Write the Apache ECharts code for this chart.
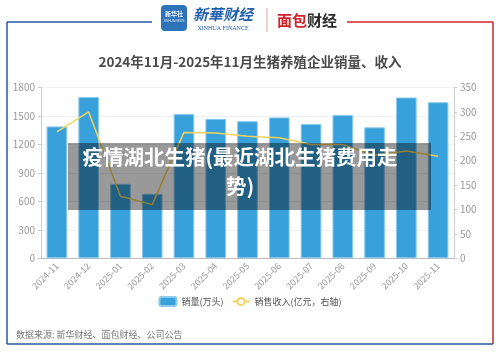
<!DOCTYPE html>
<html>
<head>
    <meta charset="utf-8">
    <title>生猪养殖企业销量、收入</title>
    <script src="https://cdn.jsdelivr.net/npm/echarts@6/dist/echarts.min.js"></script>
    <style>
        html, body { margin: 0; padding: 0; background: #fff; }
        #chart1 { width: 500px; height: 353px; }
    </style>
</head>
<body>
<div id="chart1"></div>
<script>
    // 数据
    var months = ['2024-11', '2024-12', '2025-01', '2025-02', '2025-03', '2025-04', '2025-05',
        '2025-06', '2025-07', '2025-08', '2025-09', '2025-10', '2025-11'];
    var salesVolume = [1390, 1700, 785, 680, 1520, 1470, 1445, 1485, 1415, 1510, 1380, 1695, 1645];  // 万头
    var salesIncome = [259, 300, 127, 110, 258, 257, 250, 247, 233, 233, 211, 220, 209];  // 亿元
    var leftTicks = { min: 0, max: 1800, interval: 300 };
    var rightTicks = { min: 0, max: 350, interval: 50 };

    var cjk = '"Noto Sans CJK SC", "Noto Sans", sans-serif';
    var myChart1 = echarts.init(document.getElementById('chart1'));

    myChart1.setOption({
        backgroundColor: '#fff',
        textStyle: { fontFamily: cjk },
        title: {
            text: '2024年11月-2025年11月生猪养殖企业销量、收入',
            left: 'center',
            top: 50,
            textStyle: { fontSize: 13.5, fontWeight: 'bold', color: '#4a4a4a', fontFamily: cjk }
        },
        legend: {
            bottom: 41,
            left: 'center',
            itemGap: 8,
            itemWidth: 17,
            itemHeight: 9,
            textStyle: { fontSize: 9, color: '#555' },
            data: [
                { name: '销量(万头)', icon: 'roundRect' },
                { name: '销售收入(亿元，右轴)' }
            ]
        },
        grid: { left: 41, right: 46, top: 87.5, bottom: 94.7, containLabel: false },
        xAxis: {
            type: 'category',
            data: months,
            axisLine: { lineStyle: { color: '#bbb' } },
            axisTick: { lineStyle: { color: '#bbb' } },
            axisLabel: { rotate: 45, fontSize: 9, color: '#999', margin: 6 }
        },
        yAxis: [
            {
                type: 'value',
                min: leftTicks.min, max: leftTicks.max, interval: leftTicks.interval,
                axisLine: { show: true, lineStyle: { color: '#ccc' } },
                axisTick: { show: true, length: 3, lineStyle: { color: '#ccc' } },
                axisLabel: { fontSize: 10, color: '#999', margin: 6, formatter: function (v) { return String(v); } },
                splitLine: { lineStyle: { color: '#eef0f5' } }
            },
            {
                type: 'value',
                min: rightTicks.min, max: rightTicks.max, interval: rightTicks.interval,
                axisLine: { show: true, lineStyle: { color: '#ccc' } },
                axisTick: { show: true, length: 3, lineStyle: { color: '#ccc' } },
                axisLabel: { fontSize: 10, color: '#999', margin: 6, formatter: function (v) { return String(v); } },
                splitLine: { show: false }
            }
        ],
        series: [
            {
                name: '销量(万头)',
                type: 'bar',
                barWidth: '65%',
                itemStyle: { color: '#38a0da', borderColor: '#8ccaee', borderWidth: 1 },
                data: salesVolume
            },
            {
                name: '销售收入(亿元，右轴)',
                type: 'line',
                yAxisIndex: 1,
                symbol: 'emptyCircle',
                symbolSize: 8,
                showSymbol: false,
                lineStyle: { color: '#f7d35a', width: 1.5 },
                itemStyle: { color: '#f7d35a' },
                data: salesIncome
            }
        ],
        graphic: [
            // 边框
            { type: 'line', z: 50, shape: { x1: 7, y1: 22, x2: 152, y2: 22 }, style: { stroke: '#2a57a3', lineWidth: 1.5 } },
            { type: 'line', z: 50, shape: { x1: 347, y1: 22, x2: 493, y2: 22 }, style: { stroke: '#d2232a', lineWidth: 1.5 } },
            { type: 'line', z: 50, shape: { x1: 7, y1: 22, x2: 7, y2: 344 }, style: { stroke: '#2a57a3', lineWidth: 1.5 } },
            { type: 'line', z: 50, shape: { x1: 493, y1: 22, x2: 493, y2: 344 }, style: { stroke: '#d2232a', lineWidth: 1.5 } },
            { type: 'line', z: 50, shape: { x1: 7, y1: 344, x2: 493, y2: 344 }, style: { stroke: '#2a57a3', lineWidth: 1.5 } },
            // 标志
            { type: 'rect', z: 50, shape: { x: 161, y: 5, width: 26, height: 26, r: 4 }, style: { fill: '#2d73ba' } },
            { type: 'text', z: 51, style: { x: 174, y: 14, text: '新华社', fill: '#fff', fontSize: 6, fontWeight: 'bold', align: 'center', verticalAlign: 'middle', fontFamily: cjk } },
            { type: 'text', z: 51, style: { x: 174, y: 21, text: 'XINHUA NEWS', fill: '#dbe9f7', fontSize: 3, align: 'center', verticalAlign: 'middle' } },
            { type: 'text', z: 50, style: { x: 223, y: 14, text: '新華财经', fill: '#1f5fae', fontSize: 15, fontStyle: 'italic', fontWeight: 'bold', align: 'center', verticalAlign: 'middle', fontFamily: cjk } },
            { type: 'text', z: 50, style: { x: 223, y: 28, text: 'XINHUA FINANCE', fill: '#1f5fae', fontSize: 6, align: 'center', verticalAlign: 'middle', fontFamily: '"Liberation Serif", serif' } },
            { type: 'line', z: 50, shape: { x1: 267, y1: 8, x2: 267, y2: 32 }, style: { stroke: '#d9a0a0', lineWidth: 1 } },
            { type: 'text', z: 50, style: { x: 307, y: 20, text: '{r|面包}{k|财经}', align: 'center', verticalAlign: 'middle',
                rich: {
                    r: { fill: '#d2232a', fontSize: 15, fontWeight: 'bold', fontFamily: cjk },
                    k: { fill: '#2a2a2a', fontSize: 15, fontWeight: 'bold', fontFamily: cjk }
                } } },
            // 数据来源
            { type: 'text', z: 50, style: { x: 16, y: 335, text: '数据来源: 新华财经、面包财经、公司公告', fill: '#777', fontSize: 9, verticalAlign: 'middle', fontFamily: cjk } },
            // 遮罩标题
            { type: 'rect', z: 100, shape: { x: 68, y: 143, width: 363, height: 67 }, style: { fill: 'rgba(0,0,0,0.4)' } },
            { type: 'text', z: 101, style: { x: 240, y: 172, text: '疫情湖北生猪(最近湖北生猪费用走\n势)', fill: '#fff', fontSize: 20.5, fontWeight: 'bold', lineHeight: 29, align: 'center', verticalAlign: 'middle', fontFamily: cjk } }
        ]
    });
</script>
</body>
</html>
